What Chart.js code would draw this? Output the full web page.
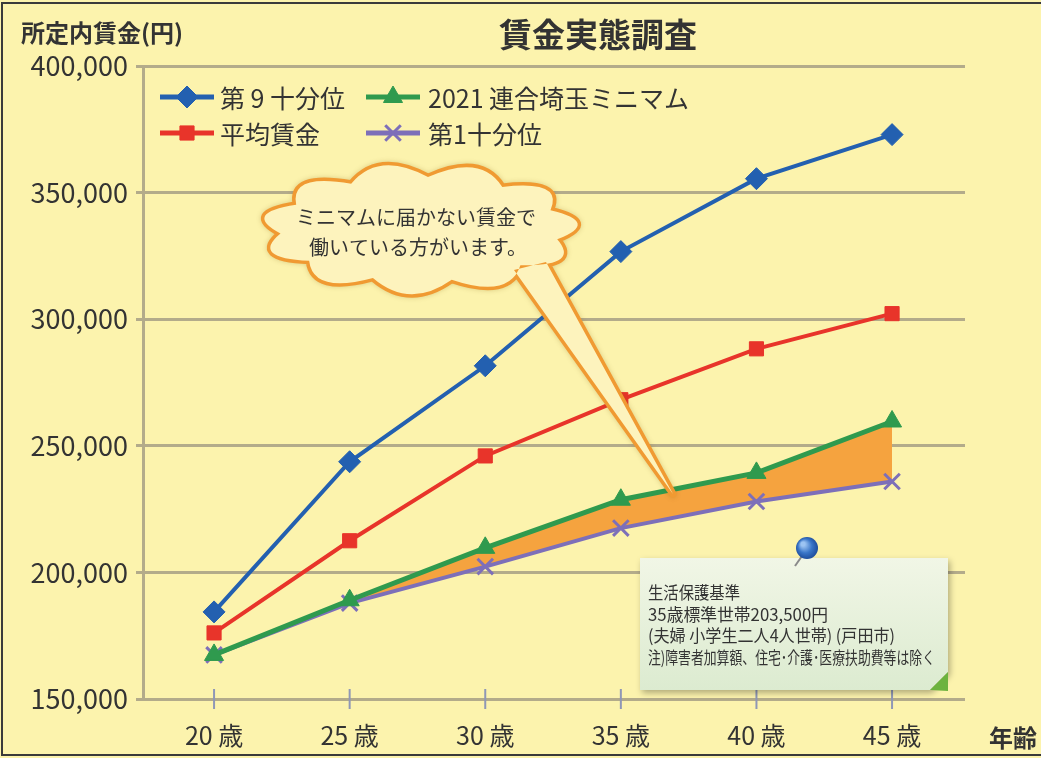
<!DOCTYPE html>
<html lang="ja">
<head>
<meta charset="utf-8">
<title>賃金実態調査</title>
<script src="https://cdn.jsdelivr.net/npm/chart.js@4.4.1/dist/chart.umd.min.js"></script>
<style>
  body { margin: 0; background: #fcf3ad; }
  canvas { display: block; }
</style>
</head>
<body>
<canvas id="wage-chart" width="1041" height="758"></canvas>
<script>
"use strict";
// ages (x categories) and yen values
const ages = [20, 25, 30, 35, 40, 45];
const ninthDecile = [184400, 243700, 281600, 326700, 355500, 372900];
const averageWage = [176100, 212500, 246000, 268200, 288300, 302200];
const rengoMinimum = [167400, 189000, 209700, 228700, 239300, 259600];
const firstDecile = [167400, 187900, 202300, 217500, 228000, 235900];
const yTicks = [150000, 200000, 250000, 300000, 350000, 400000];
const seriesLabels = ["第 9 十分位", "平均賃金", "2021 連合埼玉ミニマム", "第1十分位"];

const FONT = '"Noto Sans CJK JP", "Noto Sans", sans-serif';
const TEXT = "#333333";
const GRID = "#b3ab8a";
Chart.defaults.font.family = FONT;

function toPoints(values) {
  return ages.map((age, i) => ({ x: age, y: values[i] }));
}

// draw one legend marker the same way chart points are drawn
function drawMarker(ctx, ds, x, y) {
  ctx.save();
  ctx.fillStyle = ds.pointBackgroundColor;
  ctx.strokeStyle = ds.pointBorderColor;
  ctx.lineWidth = ds.pointBorderWidth;
  if (Chart.helpers && Chart.helpers.drawPoint) {
    Chart.helpers.drawPoint(ctx, {
      pointStyle: ds.pointStyle,
      radius: ds.pointRadius,
      borderWidth: ds.pointBorderWidth,
      rotation: 0,
    }, x, y);
  }
  ctx.restore();
}

// cloud outline path, bumps drawn as quadratic curves around an ellipse
function cloudPath(ctx, cx, cy, rx, ry, bumps) {
  for (let i = 0; i <= bumps; i++) {
    const a = (i / bumps) * Math.PI * 2 + 0.2;
    const x = cx + rx * Math.cos(a);
    const y = cy + ry * Math.sin(a);
    if (i === 0) {
      ctx.moveTo(x, y);
      continue;
    }
    const am = ((i - 0.5) / bumps) * Math.PI * 2 + 0.2;
    ctx.quadraticCurveTo(cx + rx * 1.3 * Math.cos(am), cy + ry * 1.55 * Math.sin(am), x, y);
  }
  ctx.closePath();
}

const decorations = {
  id: "decorations",
  beforeDraw(chart) {
    const ctx = chart.ctx;
    ctx.save();
    ctx.fillStyle = "#fcf3ad";
    ctx.fillRect(0, 0, chart.width, chart.height);
    ctx.restore();
  },
  beforeDatasetsDraw(chart) {
    // small tick marks crossing the x axis
    const ctx = chart.ctx;
    const xs = chart.scales.x;
    const base = chart.scales.y.getPixelForValue(150000);
    ctx.save();
    ctx.strokeStyle = "#8f97b6";
    ctx.lineWidth = 2;
    ages.forEach((age) => {
      const px = xs.getPixelForValue(age);
      ctx.beginPath();
      ctx.moveTo(px, base - 10);
      ctx.lineTo(px, base + 10);
      ctx.stroke();
    });
    ctx.restore();
  },
  afterDraw(chart) {
    const ctx = chart.ctx;
    ctx.save();

    // frame of the scanned page
    ctx.strokeStyle = "#3a3a3a";
    ctx.lineWidth = 2;
    ctx.beginPath();
    ctx.moveTo(chart.width, 3);
    ctx.lineTo(2, 3);
    ctx.lineTo(2, 755);
    ctx.lineTo(chart.width, 755);
    ctx.stroke();

    // titles
    ctx.fillStyle = TEXT;
    ctx.textBaseline = "middle";
    ctx.textAlign = "center";
    ctx.font = "bold 33px " + FONT;
    ctx.fillText("賃金実態調査", 598, 34);
    ctx.textAlign = "left";
    ctx.font = "bold 24px " + FONT;
    ctx.fillText("所定内賃金(円)", 21, 33, 167);
    ctx.fillText("年齢", 989, 738);

    // legend: line sample + marker + label
    const legendSlots = [
      { x: 160, y: 97 },
      { x: 160, y: 133 },
      { x: 366, y: 97 },
      { x: 366, y: 133 },
    ];
    ctx.font = "25px " + FONT;
    chart.data.datasets.forEach((ds, i) => {
      const slot = legendSlots[i];
      ctx.strokeStyle = ds.borderColor;
      ctx.lineWidth = 5;
      ctx.beginPath();
      ctx.moveTo(slot.x, slot.y);
      ctx.lineTo(slot.x + 54, slot.y);
      ctx.stroke();
      drawMarker(ctx, ds, slot.x + 27, slot.y);
      ctx.fillStyle = TEXT;
      ctx.fillText(ds.label, slot.x + (i < 2 ? 60 : 62), slot.y + 1);
    });

    // speech cloud with tail
    const cx = 420, cy = 229;
    ctx.beginPath();
    cloudPath(ctx, cx, cy, 140, 52, 11);
    ctx.moveTo(514, 270);
    ctx.lineTo(673, 494);
    ctx.lineTo(546, 262);
    ctx.closePath();
    ctx.lineJoin = "round";
    ctx.strokeStyle = "#f09a32";
    ctx.lineWidth = 7;
    ctx.shadowColor = "rgba(120, 90, 0, 0.25)";
    ctx.shadowBlur = 5;
    ctx.stroke();
    ctx.shadowColor = "transparent";
    ctx.fillStyle = "#fdf3bd";
    ctx.fill();
    ctx.fillStyle = TEXT;
    ctx.textAlign = "center";
    ctx.font = "20px " + FONT;
    ctx.fillText("ミニマムに届かない賃金で", 416, 217);
    ctx.fillText("働いている方がいます。", 418, 247);

    // note card
    ctx.shadowColor = "rgba(0, 0, 0, 0.3)";
    ctx.shadowBlur = 6;
    ctx.shadowOffsetX = 2;
    ctx.shadowOffsetY = 3;
    const grad = ctx.createLinearGradient(0, 558, 0, 690);
    grad.addColorStop(0, "#f1f6e6");
    grad.addColorStop(1, "#dcebd0");
    ctx.fillStyle = grad;
    ctx.beginPath();
    ctx.moveTo(640, 558);
    ctx.lineTo(948, 558);
    ctx.lineTo(948, 672);
    ctx.lineTo(930, 690);
    ctx.lineTo(640, 690);
    ctx.closePath();
    ctx.fill();
    ctx.shadowColor = "transparent";
    ctx.fillStyle = "#6db33f";
    ctx.beginPath();
    ctx.moveTo(948, 672);
    ctx.lineTo(948, 691);
    ctx.lineTo(930, 690);
    ctx.closePath();
    ctx.fill();

    ctx.fillStyle = TEXT;
    ctx.textAlign = "left";
    ctx.font = "17px " + FONT;
    const noteLines = [
      ["生活保護基準", 92],
      ["35歳標準世帯203,500円", 180],
      ["(夫婦 小学生二人4人世帯) (戸田市)", 247],
      ["注)障害者加算額、住宅･介護･医療扶助費等は除く", 287],
    ];
    noteLines.forEach((line, i) => ctx.fillText(line[0], 648, 593 + i * 21.5, line[1]));

    // push pin
    ctx.strokeStyle = "#8a8a8a";
    ctx.lineWidth = 2;
    ctx.beginPath();
    ctx.moveTo(802, 556);
    ctx.lineTo(795, 566);
    ctx.stroke();
    const pin = ctx.createRadialGradient(803, 544, 2, 807, 548, 12);
    pin.addColorStop(0, "#9cc4f2");
    pin.addColorStop(0.5, "#3a76c8");
    pin.addColorStop(1, "#1b4896");
    ctx.fillStyle = pin;
    ctx.beginPath();
    ctx.arc(807, 548, 11, 0, Math.PI * 2);
    ctx.fill();

    ctx.restore();
  },
};

const datasets = [
  {
    label: seriesLabels[0],
    data: toPoints(ninthDecile),
    borderColor: "#2360b0",
    borderWidth: 4,
    pointStyle: "rectRot",
    pointRadius: 11,
    pointBackgroundColor: "#2360b0",
    pointBorderColor: "#2360b0",
    pointBorderWidth: 1,
    fill: false,
  },
  {
    label: seriesLabels[1],
    data: toPoints(averageWage),
    borderColor: "#e8342a",
    borderWidth: 4,
    pointStyle: "rect",
    pointRadius: 10,
    pointBackgroundColor: "#e8342a",
    pointBorderColor: "#e8342a",
    pointBorderWidth: 1,
    fill: false,
  },
  {
    label: seriesLabels[2],
    data: toPoints(rengoMinimum),
    borderColor: "#2f9a4e",
    borderWidth: 5,
    pointStyle: "triangle",
    pointRadius: 11,
    pointBackgroundColor: "#2f9a4e",
    pointBorderColor: "#2f9a4e",
    pointBorderWidth: 1,
    // orange band between minimum and first decile
    fill: { target: 3, above: "#f5a33f", below: "rgba(0,0,0,0)" },
  },
  {
    label: seriesLabels[3],
    data: toPoints(firstDecile),
    borderColor: "#7d6fb9",
    borderWidth: 4,
    pointStyle: "crossRot",
    pointRadius: 11,
    pointBackgroundColor: "#7d6fb9",
    pointBorderColor: "#7d6fb9",
    pointBorderWidth: 3,
    fill: false,
  },
];

new Chart(document.getElementById("wage-chart"), {
  type: "line",
  data: { datasets: datasets },
  options: {
    responsive: false,
    animation: false,
    layout: { padding: { top: 66, right: 76, left: 0, bottom: 0 } },
    elements: { line: { tension: 0 } },
    plugins: {
      legend: { display: false },
      title: { display: false },
      tooltip: { enabled: false },
      filler: { drawTime: "beforeDatasetsDraw" },
    },
    scales: {
      x: {
        type: "linear",
        min: 17.38,
        max: 47.69,
        afterBuildTicks: (scale) => {
          scale.ticks = ages.map((a) => ({ value: a }));
        },
        afterFit: (scale) => {
          scale.height = 59;
        },
        ticks: {
          callback: (v) => v + " 歳",
          color: TEXT,
          font: { size: 25 },
          padding: 13,
          maxRotation: 0,
        },
        grid: { display: false },
        border: { display: false },
      },
      y: {
        min: 150000,
        max: 400000,
        afterBuildTicks: (scale) => {
          scale.ticks = yTicks.map((v) => ({ value: v }));
        },
        afterFit: (scale) => {
          scale.width = 143;
        },
        ticks: {
          callback: (v) => v.toLocaleString("en-US"),
          color: TEXT,
          font: { size: 27 },
          padding: 8,
        },
        grid: { color: GRID, lineWidth: 3, tickLength: 7 },
        border: { display: true, color: GRID, width: 3 },
      },
    },
  },
  plugins: [decorations],
});
</script>
</body>
</html>
